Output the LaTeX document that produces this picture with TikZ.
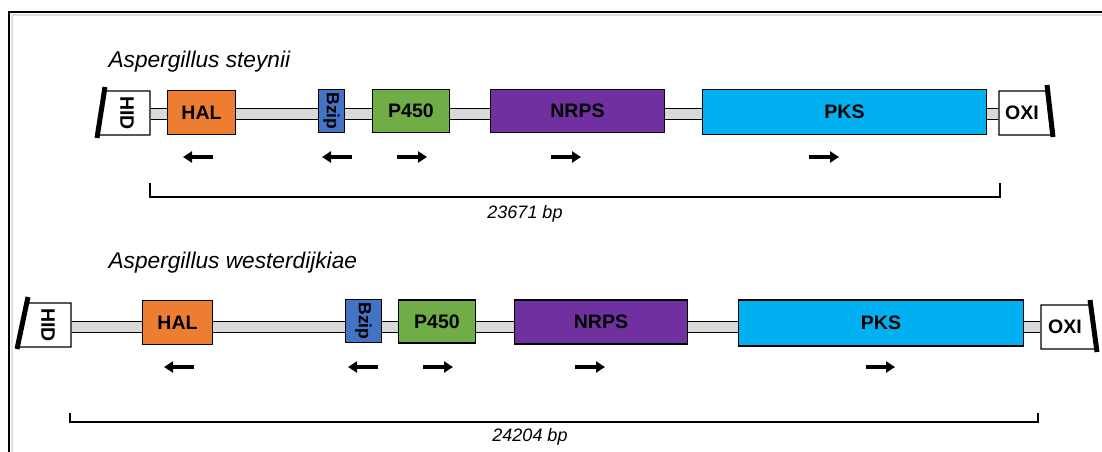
\documentclass[tikz,border=0pt]{standalone}
\usepackage{fontspec}
\setmainfont{Liberation Sans}
\usetikzlibrary{arrows.meta,backgrounds}
\definecolor{halorange}{HTML}{ED7D31}
\definecolor{bzipblue}{HTML}{4472C4}
\definecolor{pgreen}{HTML}{70AD47}
\definecolor{nrpspurple}{HTML}{7030A0}
\definecolor{pkscyan}{HTML}{00B0F0}
\definecolor{bbgrey}{HTML}{D9D9D9}
\tikzset{
  gene/.style={draw, line width=1.2pt, inner sep=0pt, font=\bfseries\fontsize{19.5}{21}\selectfont},
  flank/.style={gene, draw=none},
  flankbox/.style={fill=white, draw, line width=1.2pt},
  endbar/.style={line width=5pt},
  backbone/.style={draw=black, line width=1pt, double=bbgrey, double distance=10pt},
  orient/.style={line width=3.5pt, -{Triangle[length=9pt,width=11pt]}},
  span/.style={line width=1.3pt},
  sizelbl/.style={font=\itshape\fontsize{18}{20}\selectfont},
  species/.style={font=\itshape\fontsize{22.7}{24}\selectfont, anchor=west},
}
\begin{document}
\begin{tikzpicture}[x=1pt,y=-1pt]
  \useasboundingbox (0,0) rectangle (1102,452);
  \draw[gray!25, line width=2pt] (12,452) -- (12,15) -- (1102,15);
  \draw[line width=1.8pt] (9,452) -- (9,12) -- (1102,12);

  \node[species] (sp1) at (105,62) {Aspergillus steynii};
  \filldraw[flankbox] (104.5,91) -- (150,91) -- (150,135) -- (97.5,135) -- cycle;
  \filldraw[flankbox] (999,91) -- (1046,91) -- (1051,135) -- (999,135) -- cycle;
  \node[flank, minimum width=46pt, minimum height=44pt] (hid1) at (127,113) {\rotatebox{-90}{HID}};
  \node[gene, fill=halorange, minimum width=68pt, minimum height=44pt] (hal1) at (201.5,112.5) {HAL};
  \node[gene, fill=bzipblue, minimum width=26pt, minimum height=43pt, font=\bfseries\fontsize{17.5}{18}\selectfont] (bzip1) at (331.5,111) {\rotatebox{-90}{Bzip}};
  \node[gene, fill=pgreen, minimum width=77pt, minimum height=43pt] (p4501) at (411,111) {P450};
  \node[gene, fill=nrpspurple, minimum width=174pt, minimum height=43pt] (nrps1) at (577.5,111) {NRPS};
  \node[gene, fill=pkscyan, minimum width=284pt, minimum height=45pt] (pks1) at (844.5,112) {PKS};
  \node[flank, minimum width=46pt, minimum height=44pt] (oxi1) at (1022,113) {OXI};
  \coordinate (bb1) at (0,114);
  \begin{scope}[on background layer]
    \draw[backbone] (hid1.east |- bb1) -- (oxi1.west |- bb1);
  \end{scope}
  \draw[endbar] (105,87) -- (97,138);
  \draw[endbar] (1047,85) -- (1053,137);
  \draw[orient] (213,157) -- (183,157);
  \draw[orient] (352,157) -- (322,157);
  \draw[orient] (397,157) -- (427,157);
  \draw[orient] (551,157) -- (581,157);
  \draw[orient] (809,157) -- (839,157);
  \draw[span] (150,183) -- (150,197) -- (1000,197) -- (1000,183);
  \node[sizelbl] (len1) at (525,214) {23671 bp};

  \node[species] (sp2) at (105,263) {Aspergillus westerdijkiae};
  \filldraw[flankbox] (27,303) -- (71,303) -- (71,347) -- (18,347) -- cycle;
  \filldraw[flankbox] (1041,305) -- (1090,305) -- (1095,349) -- (1041,349) -- cycle;
  \node[flank, minimum width=46pt, minimum height=44pt] (hid2) at (48,325) {\rotatebox{-90}{HID}};
  \node[gene, fill=halorange, minimum width=70pt, minimum height=44pt] (hal2) at (177.5,322.5) {HAL};
  \node[gene, fill=bzipblue, minimum width=36pt, minimum height=43pt, font=\bfseries\fontsize{17.5}{18}\selectfont] (bzip2) at (363.5,321) {\rotatebox{-90}{Bzip}};
  \node[gene, fill=pgreen, minimum width=77pt, minimum height=43pt] (p4502) at (437,321.5) {P450};
  \node[gene, fill=nrpspurple, minimum width=173pt, minimum height=44pt] (nrps2) at (601,322) {NRPS};
  \node[gene, fill=pkscyan, minimum width=285pt, minimum height=46pt] (pks2) at (881,323) {PKS};
  \node[flank, minimum width=48pt, minimum height=44pt] (oxi2) at (1065,327) {OXI};
  \coordinate (bb2) at (0,326.5);
  \begin{scope}[on background layer]
    \draw[backbone] (hid2.east |- bb2) -- (oxi2.west |- bb2);
  \end{scope}
  \draw[endbar] (28,297) -- (17,349);
  \draw[endbar] (1090,300) -- (1097,352);
  \draw[orient] (194,367) -- (164,367);
  \draw[orient] (378,367) -- (348,367);
  \draw[orient] (423,367) -- (453,367);
  \draw[orient] (575,367) -- (605,367);
  \draw[orient] (866,367) -- (895,367);
  \draw[span] (70,413) -- (70,422) -- (1038,422) -- (1038,413);
  \node[sizelbl] (len2) at (530,437) {24204 bp};
\end{tikzpicture}
\end{document}
